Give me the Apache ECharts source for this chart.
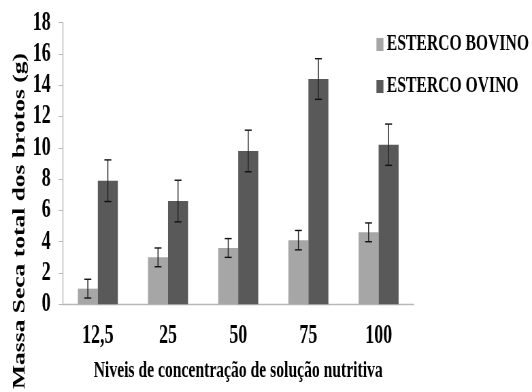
<!DOCTYPE html>
<html>
<head>
<meta charset="utf-8">
<script src="https://cdn.jsdelivr.net/npm/echarts@6/dist/echarts.min.js"></script>
<style>
  html, body { margin: 0; padding: 0; background: #fff; overflow: hidden; width: 532px; height: 392px; }
  #chart { width: 782px; height: 392px; transform: scaleX(0.6803); transform-origin: 0 0; }
</style>
</head>
<body>
<div id="chart"></div>
<script>
// ---- data ----
const categories = ['12,5', '25', '50', '75', '100'];
const bovino = [1.0, 3.0, 3.6, 4.1, 4.6];
const bovinoErr = [0.6, 0.6, 0.6, 0.62, 0.6];
const ovino = [7.9, 6.6, 9.8, 14.4, 10.2];
const ovinoErr = [1.33, 1.33, 1.33, 1.3, 1.32];
const seriesNames = ['ESTERCO BOVINO', 'ESTERCO OVINO'];
const yTitle = 'Massa Seca total dos brotos (g)';
const xTitle = 'Niveis de concentração de solução nutritiva';

const FONT = 'Liberation Serif';
const BAR_W = 29.4;
const chart = echarts.init(document.getElementById('chart'), null, { renderer: 'canvas' });

function errRender(offsetSign) {
  return function (params, api) {
    const i = api.value(0), v = api.value(1), e = api.value(2);
    const x = api.coord([i, 0])[0] + offsetSign * BAR_W / 2;
    const yTop = api.coord([i, v + e])[1];
    const yBot = api.coord([i, v - e])[1];
    const cw = 5.1;
    const st = { stroke: '#222', lineWidth: 1.45 };
    const sc = { stroke: '#111', lineWidth: 1.4 };
    return {
      type: 'group',
      children: [
        { type: 'line', shape: { x1: x, y1: yTop, x2: x, y2: yBot }, style: st },
        { type: 'line', shape: { x1: x - cw, y1: yTop, x2: x + cw, y2: yTop }, style: sc },
        { type: 'line', shape: { x1: x - cw, y1: yBot, x2: x + cw, y2: yBot }, style: sc }
      ]
    };
  };
}

const option = {
  backgroundColor: '#ffffff',
  animation: false,
  textStyle: { fontFamily: FONT },
  grid: { left: 92.2, right: 173.9, top: 22.7, bottom: 87.7, containLabel: false },
  legend: {
    data: seriesNames,
    orient: 'vertical',
    left: 548.3,
    top: 28,
    itemWidth: 10.3,
    itemHeight: 13,
    itemGap: 19,
    icon: 'rect',
    textStyle: { fontFamily: FONT, fontWeight: 'bold', fontSize: 23, color: '#000' }
  },
  xAxis: {
    type: 'category',
    data: categories,
    name: xTitle,
    nameLocation: 'middle',
    nameGap: 55,
    nameTextStyle: { fontFamily: FONT, fontWeight: 'bold', fontSize: 23, color: '#000' },
    axisLine: { lineStyle: { color: '#b8b8b8', width: 1.3 } },
    axisTick: { length: 7, lineStyle: { color: '#b8b8b8', width: 1.45 } },
    axisLabel: { margin: 18.5, fontFamily: FONT, fontWeight: 'bold', fontSize: 26.5, color: '#000' }
  },
  yAxis: {
    type: 'value',
    min: 0, max: 18, interval: 2,
    axisLine: { show: true, lineStyle: { color: '#b8b8b8', width: 1.45 } },
    axisTick: { show: true, length: 5.9, lineStyle: { color: '#b8b8b8' } },
    splitLine: { show: false },
    axisLabel: { margin: 17.6, fontFamily: FONT, fontWeight: 'bold', fontSize: 26.5, color: '#000' }
  },
  graphic: [{
    type: 'text',
    x: 29.4, y: 221,
    rotation: Math.PI / 2,
    style: {
      text: yTitle,
      fontFamily: FONT, fontWeight: 'bold', fontSize: 25.5,
      fill: '#000', textAlign: 'center', textVerticalAlign: 'middle'
    }
  }],
  series: [
    {
      name: seriesNames[0], type: 'bar', data: bovino, barWidth: BAR_W, barGap: '0%',
      itemStyle: { color: '#a6a6a6' }
    },
    {
      name: seriesNames[1], type: 'bar', data: ovino, barWidth: BAR_W, barGap: '0%',
      itemStyle: { color: '#595959' }
    },
    {
      type: 'custom', z: 5, renderItem: errRender(-1),
      encode: { x: 0, y: 1 },
      data: bovino.map((v, i) => [i, v, bovinoErr[i]])
    },
    {
      type: 'custom', z: 5, renderItem: errRender(1),
      encode: { x: 0, y: 1 },
      data: ovino.map((v, i) => [i, v, ovinoErr[i]])
    }
  ]
};
chart.setOption(option);
</script>
</body>
</html>
